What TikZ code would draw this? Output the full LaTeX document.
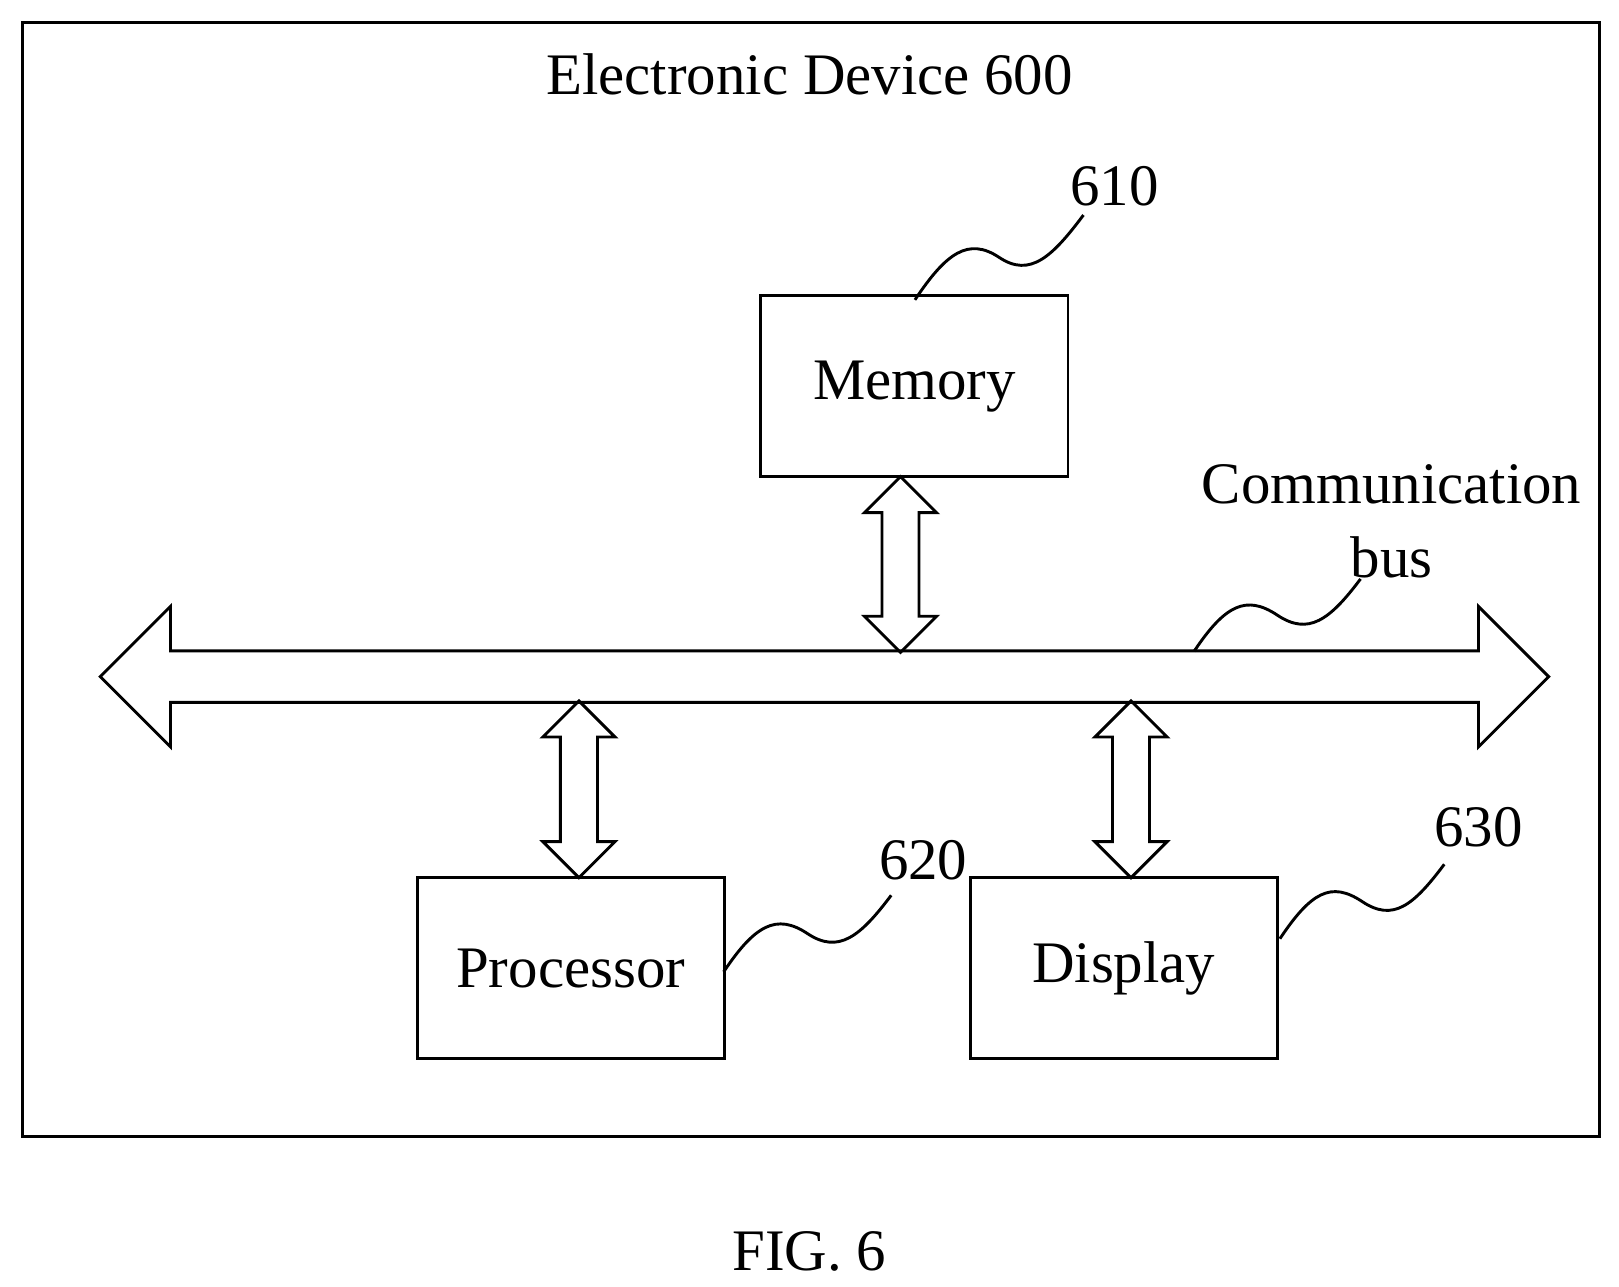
\documentclass[tikz,border=0pt]{standalone}
\usepackage{fontspec}
\setmainfont{Liberation Serif}
\usetikzlibrary{shapes,arrows,positioning,calc}

\tikzset{
  block/.style={draw, thick, rectangle, minimum width=2.97cm, minimum height=1.75cm, inner sep=0pt, font=\fontsize{16.2}{19}\selectfont},
  label/.style={font=\fontsize{16.2}{19}\selectfont, inner sep=0pt},
  bus/.style={draw, thick, double arrow, inner xsep=0pt, inner ysep=0.235cm, double arrow head extend=0.43cm, minimum height=14.01cm},
  link/.style={draw, thick, double arrow, inner xsep=0pt, inner ysep=0.165cm, double arrow head extend=0.17cm, rotate=90}
}

\begin{document}
\begin{tikzpicture}
    \useasboundingbox (0,0) rectangle (15.66,-12.44);
    \node (device) [draw, thick, rectangle, minimum width=15.25cm, minimum height=10.77cm] at (7.845,-5.605) {};
    \node (title) [label] at (7.83,-0.72) {Electronic Device 600};

    \node (mem) [block] at (8.845,-3.735) {Memory};
    \node (proc) [block] at (5.52,-9.365) {Processor};
    \node (disp) [block] at (10.87,-9.365) {Display};

    \node (busarrow) [bus] at (7.975,-6.545) {};
    \node (memlink) [link, minimum height=1.70cm] at (8.71,-5.46) {};
    \node (proclink) [link, minimum height=1.71cm] at (5.60,-7.635) {};
    \node (displink) [link, minimum height=1.71cm] at (10.94,-7.635) {};

    \node (l610) [label] at (10.78,-1.80) {610};
    \node (l620) [label] at (8.93,-8.32) {620};
    \node (l630) [label] at (14.30,-8.00) {630};
    \node (lbus) [label, align=center] at (13.46,-5.04) {Communication\\[0.05cm]bus};

    \coordinate (c610) at (10.48,-2.08);
    \coordinate (c620) at (8.62,-8.66);
    \coordinate (c630) at (13.97,-8.36);
    \coordinate (cbus) at (13.16,-5.60);
    \coordinate (s610) at (8.85,-2.90);
    \coordinate (s620) at (7.00,-9.40);
    \coordinate (s630) at (12.38,-9.08);
    \coordinate (sbus) at (11.55,-6.30);

    % lead lines
    \draw [thick] (s610) .. controls +(0.3,0.45) and +(-0.3,0.2) .. ($(s610)!0.5!(c610)$) .. controls +(0.3,-0.2) and +(-0.3,-0.4) .. (c610);
    \draw [thick] (s620) .. controls +(0.3,0.45) and +(-0.3,0.2) .. ($(s620)!0.5!(c620)$) .. controls +(0.3,-0.2) and +(-0.3,-0.4) .. (c620);
    \draw [thick] (s630) .. controls +(0.3,0.45) and +(-0.3,0.2) .. ($(s630)!0.5!(c630)$) .. controls +(0.3,-0.2) and +(-0.3,-0.4) .. (c630);
    \draw [thick] (sbus) .. controls +(0.3,0.45) and +(-0.3,0.2) .. ($(sbus)!0.5!(cbus)$) .. controls +(0.3,-0.2) and +(-0.3,-0.4) .. (cbus);

    \node (fig) [label] at (7.83,-12.10) {FIG. 6};
\end{tikzpicture}
\end{document}
